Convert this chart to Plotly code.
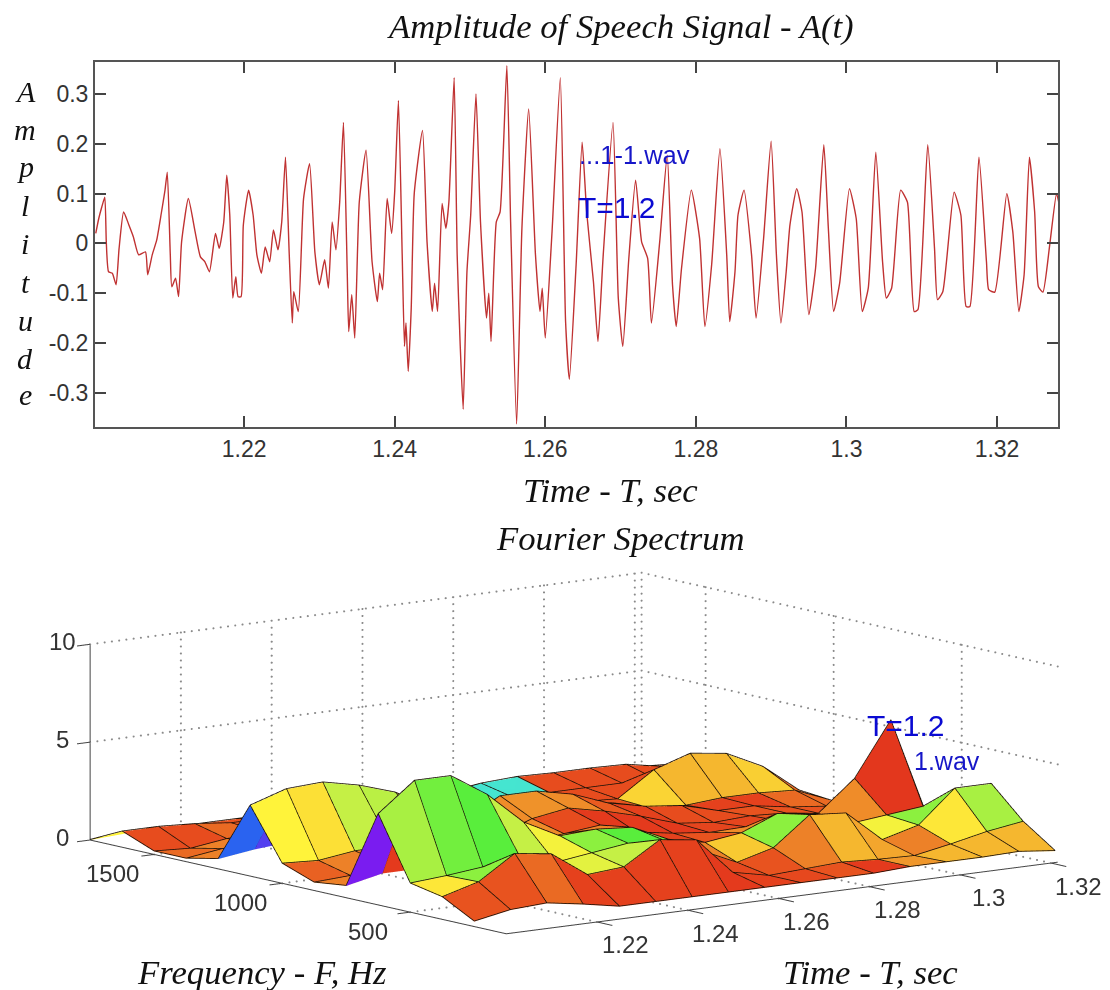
import plotly.graph_objects as go

W, H = 1110, 990

# ---------- top chart data ----------
time_s = [
1.2003,1.2007,1.2011,1.2015,1.2017,1.2020,1.2025,1.2030,1.2034,1.2040,1.2047,1.2053,1.2060,1.2069,1.2072,1.2078,1.2084,1.2090,1.2095,1.2098,
1.2102,1.2104,1.2109,1.2113,1.2117,1.2126,1.2135,1.2142,1.2148,1.2154,1.2162,1.2167,1.2173,1.2177,1.2181,1.2185,1.2189,1.2192,1.2196,1.2199,
1.2206,1.2212,1.2217,1.2223,1.2228,1.2234,1.2239,1.2245,1.2250,1.2255,1.2260,1.2264,1.2266,1.2272,1.2279,1.2287,1.2294,1.2300,1.2307,1.2312,
1.2317,1.2322,1.2327,1.2332,1.2337,1.2339,1.2343,1.2347,1.2353,1.2362,1.2370,1.2377,1.2380,1.2384,1.2390,1.2396,1.2400,1.2405,1.2410,1.2413,
1.2415,1.2418,1.2422,1.2426,
1.2437,1.2443,1.2450,1.2453,1.2457,1.2463,1.2468,1.2472,1.2479,1.2483,1.2487,1.2491,1.2496,1.2501,1.2508,1.2514,1.2522,1.2525,1.2528,1.2535,
1.2540,1.2549,1.2554,1.2562,1.2569,1.2578,1.2587,1.2593,1.2596,1.2600,1.2609,1.2620,1.2627,1.2632,1.2641,1.2649,1.2655,1.2664,1.2670,1.2677,
1.2690,1.2697,1.2703,1.2711,1.2720,1.2728,1.2736,1.2741,1.2752,1.2762,1.2769,1.2774,1.2781,1.2794,1.2805,1.2812,1.2821,1.2832,1.2841,1.2845,1.2852,
1.2856,1.2864,1.2874,1.2880,1.2890,1.2900,1.2907,1.2913,1.2920,1.2925,1.2934,1.2941,1.2950,1.2959,1.2970,1.2976,1.2983,1.2991,1.3004,1.3013,
1.3021,1.3029,1.3039,1.3048,1.3053,1.3060,1.3072,1.3081,1.3090,1.3095,1.3108,1.3117,1.3121,1.3128,1.3143,1.3152,1.3159,1.3164,1.3176,1.3186,
1.3189,1.3197,1.3213,1.3221,1.3229,1.3236,1.3243,1.3250,1.3255,1.3261,1.3270,1.3279,1.3282]
amplitude = [
.020,.050,.073,.093,.003,-.057,-.060,-.083,-.010,.063,.037,.013,-.023,-.017,-.063,-.023,.007,.060,.107,.143,
-.023,-.087,-.070,-.107,.003,.090,.023,-.027,-.037,-.057,.020,-.010,.043,.137,.057,-.110,-.067,-.107,-.107,.037,
.107,.057,-.023,-.060,-.007,-.037,.027,-.013,.043,.173,-.023,-.160,-.097,-.137,.090,.160,-.017,-.083,-.033,-.090,
.043,-.013,.083,.243,-.057,-.177,-.103,-.190,.083,.187,-.037,-.117,-.060,-.093,.090,.020,.103,.287,-.023,-.207,
-.160,-.257,-.130,.100,
.227,.003,-.137,-.080,-.137,.080,.030,.083,.333,-.023,-.203,-.333,-.057,.057,.300,.043,-.150,-.100,-.197,.043,
.063,.357,.043,-.363,.030,.270,-.023,-.137,-.090,-.190,.023,.333,-.157,-.273,-.043,.203,.063,-.077,-.197,-.023,
.243,-.110,-.207,-.030,.127,.003,-.030,-.160,.003,.177,-.083,-.167,-.050,.107,.010,-.167,-.043,.190,-.023,-.157,-.057,
.057,.107,-.023,-.150,.010,.205,-.023,-.160,-.057,.037,.110,.063,-.143,-.050,.198,.030,-.137,-.080,.110,.050,
-.137,-.090,.183,-.037,-.110,-.090,.107,.083,-.137,-.133,.198,-.010,-.113,-.097,.103,.057,-.127,-.127,.173,-.037,
-.093,-.098,.100,.023,-.137,-.063,.173,.063,-.087,-.098,-.003,.100,.083]

x_ticks = [1.22, 1.24, 1.26, 1.28, 1.30, 1.32]
x_tick_labels = ["1.22", "1.24", "1.26", "1.28", "1.3", "1.32"]
y_ticks = [-0.3, -0.2, -0.1, 0, 0.1, 0.2, 0.3]
y_tick_labels = ["-0.3", "-0.2", "-0.1", "0", "0.1", "0.2", "0.3"]

# ---------- bottom chart data ----------
spec_times = [1.2 + 0.008 * k for k in range(17)]
spec_freqs = [250 + 125 * k for k in range(13)]
# rows: frequency index 0..12, columns: time index 0..16
spec_amp = [
[.25,.6,.7,.4,.05,.05,.05,.05,.05,.05,.05,.05,.15,.15,.15,.2,0],
[1.13,1.65,2.86,2.6,1.3,1.45,2.6,2.35,.45,.05,.15,.25,.15,.1,.45,.85,1.13],
[1.46,1.6,1.8,2.15,1.55,1.8,2.05,1.95,1.2,.35,.85,2.3,2.15,.55,1.05,2.7,2.7],
[4.64,6.1,6.1,4.9,3.25,2.3,2.4,2.25,1.4,1.0,1.25,2.0,1.7,1.0,1.2,1.4,.3],
[.6,1.0,1.0,1.2,1.3,1.6,1.8,2.0,1.4,1.1,.9,.95,1.0,1.15,2.7,5.45,.3],
[.4,.5,.8,.9,1.2,1.5,2.2,2.5,2.1,1.6,1.0,.8,.9,.8,.5,.3,.1],
[1.0,.9,1.15,1.2,1.5,2.0,3.0,3.0,2.6,1.9,1.5,1.3,.8,.8,.5,.3,.1],
[3.6,4.2,4.3,3.9,3.3,2.2,1.5,1.2,1.1,1.2,1.3,.8,.7,.85,.85,.75,0],
[.5,.75,.9,1.0,1.0,1.0,1.0,1.0,1.0,1.0,1.0,.9,2.15,2.75,2.5,1.6,.15],
[.15,.4,.5,.6,.6,.7,.8,.9,1.0,1.1,1.1,1.1,1.1,1.0,.8,.5,.1],
[.15,.05,.3,.4,.4,.5,.6,.8,1.2,1.45,1.55,1.5,1.5,1.45,1.1,.5,0],
[.8,.8,.7,.5,.5,.5,.5,.5,.5,.5,.5,.5,.5,.5,.4,.3,0],
[0,.1,.1,.1,.1,.1,.1,.1,.1,.1,.1,.1,.1,.1,.1,.1,0],
]
# colour level of each facet (0 red ... 10 purple); rows 0..11, columns 0..15
spec_hue = [
[1,1,1.5,.5,.5,.5,.5,.3,.5,.7,1,.3,2.4,3,3,3],
[3.8,6,1,1,4.5,5,2,2,.7,1,2,3,2.7,2,3.8,5.5],
[5.5,6.5,7,5,4.2,6,7,6.5,2,3.3,6,4.2,2,4.2,6,2],
[10,.3,2,2,2,3,2,2,.5,1,2.2,2.5,1,2.2,.2,.2],
[2,1,1,1,2.2,2.2,.8,.3,.3,.3,.6,.6,1,1,1,1],
[1.3,2,1.8,2,2,2.2,2.3,2.2,1.2,.5,.8,.8,1,1,1,1],
[4,3.7,5,5.2,5,1,1,1,1,1,1,1,.5,.5,1.5,1.5],
[9,9.5,1,1,1,1,1,1,1,1,1,3.5,3,3,3.4,1.5],
[2,9.5,1,1,1,1,1,1,1,1,.8,.8,.8,.8,.8,.8],
[1.5,2,1,1,1,1,1,1,8,8,.8,.8,.8,.8,.8,.8],
[.8,.8,1.5,1,1,.8,.8,.8,.8,.8,.8,.8,.8,.8,.8,.8],
[4,1,1,1,1,.8,.8,.8,.8,.8,.8,.8,.8,.8,.8,.8],
]
hue_colors = ["#e2301c","#e8541f","#ed8228","#f5b82f","#fff33a","#c4f045",
              "#8cf03f","#58ee3c","#45e6d0","#2a62f0","#7a1cf0"]
t_ticks = [1.22, 1.24, 1.26, 1.28, 1.30, 1.32]
t_tick_labels = ["1.22", "1.24", "1.26", "1.28", "1.3", "1.32"]
f_ticks = [500, 1000, 1500]
z_ticks = [0, 5, 10]

T_LOW, T_WALL = 1.2, 1.3215
F_LOW, F_WALL = 125, 1750
Z_TOP = 10
EYE_R = 6.0
ZOOM = 4.1

SERIF = "Liberation Serif"
SANS = "Liberation Sans"
INK = "#333333"
BLUE = "#1616c8"

fig = go.Figure()

# ---------- top line ----------
fig.add_trace(go.Scatter(x=time_s, y=amplitude, mode="lines",
                         line=dict(color="#c03232", width=1.4, shape="spline", smoothing=0.5),
                         hoverinfo="skip", xaxis="x", yaxis="y", showlegend=False))

# ---------- surface ----------
nj, ni = len(spec_freqs), len(spec_times)
vx, vy, vz, fi, fj, fk, fint = [], [], [], [], [], [], []
for j in range(nj):
    for i in range(ni):
        vx.append(spec_times[i]); vy.append(spec_freqs[j]); vz.append(spec_amp[j][i])
for j in range(nj - 1):
    for i in range(ni - 1):
        a = j * ni + i; b = a + 1; c = a + ni; d = c + 1
        fi += [a, a]; fj += [b, d]; fk += [d, c]
        fint += [spec_hue[j][i]] * 2
n = len(hue_colors) - 1
fig.add_trace(go.Mesh3d(
    x=vx, y=vy, z=vz, i=fi, j=fj, k=fk, intensity=fint, intensitymode="cell",
    cmin=0, cmax=n, showscale=False, flatshading=True,
    colorscale=[[k / n, c] for k, c in enumerate(hue_colors)],
    lighting=dict(ambient=1, diffuse=0, specular=0, roughness=1, fresnel=0),
    hoverinfo="skip", scene="scene"))

LIFT = 0.03
ex, ey, ez = [], [], []
for j in range(nj):
    ex += spec_times + [None]; ey += [spec_freqs[j]] * ni + [None]
    ez += [v + LIFT for v in spec_amp[j]] + [None]
for i in range(ni):
    ex += [spec_times[i]] * nj + [None]; ey += spec_freqs + [None]
    ez += [spec_amp[j][i] + LIFT for j in range(nj)] + [None]
fig.add_trace(go.Scatter3d(x=ex, y=ey, z=ez, mode="lines", hoverinfo="skip",
                           line=dict(color="#1c1208", width=1.6), scene="scene", showlegend=False))

# dotted walls and floor, drawn as small marks along each grid line
gx, gy, gz = [], [], []
def seg(x0, y0, z0, x1, y1, z1, count):
    for k in range(count + 1):
        s = k / count
        gx.append(x0 + (x1 - x0) * s); gy.append(y0 + (y1 - y0) * s); gz.append(z0 + (z1 - z0) * s)
for t in t_ticks:
    seg(t, F_WALL, 0, t, F_WALL, Z_TOP, 28)
    seg(t, F_LOW, 0, t, F_WALL, 0, 60)
for f in f_ticks:
    seg(T_WALL, f, 0, T_WALL, f, Z_TOP, 28)
    seg(T_LOW, f, 0, T_WALL, f, 0, 76)
for z in z_ticks[1:]:
    seg(T_LOW, F_WALL, z, T_WALL, F_WALL, z, 76)
    seg(T_WALL, F_LOW, z, T_WALL, F_WALL, z, 60)
seg(T_WALL, F_WALL, 0, T_WALL, F_WALL, Z_TOP, 28)
fig.add_trace(go.Scatter3d(x=gx, y=gy, z=gz, mode="markers", hoverinfo="skip",
                           marker=dict(color="#8a8a8a", size=1.2, line=dict(width=0)),
                           scene="scene", showlegend=False))

# solid axes and ticks
ax, ay, az = [], [], []
def aseg(x0, y0, z0, x1, y1, z1):
    ax.extend([x0, x1, None]); ay.extend([y0, y1, None]); az.extend([z0, z1, None])
aseg(T_LOW, F_LOW, 0, T_LOW, F_WALL, 0)
aseg(T_LOW, F_LOW, 0, T_WALL, F_LOW, 0)
aseg(T_LOW, F_WALL, 0, T_LOW, F_WALL, Z_TOP)
for t in t_ticks:
    aseg(t, F_LOW, 0, t, F_LOW - 60, 0)
for f in f_ticks:
    aseg(T_LOW, f, 0, T_LOW - 0.0028, f, 0)
for z in z_ticks:
    aseg(T_LOW, F_WALL, z, T_LOW - 0.004, F_WALL, z)
fig.add_trace(go.Scatter3d(x=ax, y=ay, z=az, mode="lines", hoverinfo="skip",
                           line=dict(color="#444444", width=2), scene="scene", showlegend=False))

# scene tick labels
scene_notes = []
for t, lab in zip(t_ticks, t_tick_labels):
    scene_notes.append(dict(x=t, y=F_LOW, z=0, text=lab, showarrow=False, xshift=28, yshift=-23,
                            font=dict(family=SANS, size=24, color=INK)))
for f in f_ticks:
    scene_notes.append(dict(x=T_LOW, y=f, z=0, text=str(f), showarrow=False, xshift=-42, yshift=-19,
                            font=dict(family=SANS, size=24, color=INK)))
for z in z_ticks:
    scene_notes.append(dict(x=T_LOW, y=F_WALL, z=z, text=str(z), showarrow=False, xshift=-28, yshift=3,
                            font=dict(family=SANS, size=24, color=INK)))

# ---------- layout ----------
def px(x): return x / W
def py(y): return 1 - y / H
def note(x, y, text, size, family=SERIF, color="#111111", anchor="center", italic=True):
    txt = f"<i>{text}</i>" if italic else text
    return dict(x=px(x), y=py(y), xref="paper", yref="paper", text=txt, showarrow=False,
                xanchor=anchor, yanchor="middle", font=dict(family=family, size=size, color=color))

notes = [
    note(620, 27, "Amplitude of Speech Signal - A(t)", 34.7),
    note(610, 490, "Time - T, sec", 34.7),
    note(620, 538, "Fourier Spectrum", 34.7),
    note(262, 972, "Frequency - F, Hz", 34.7),
    note(870, 972, "Time - T, sec", 34.7),
    note(577, 155, "...1-1.wav", 25.5, SANS, BLUE, "left", False),
    note(576, 207, "T=1.2", 30, SANS, "#0a0ad2", "left", False),
    note(865, 725, "T=1.2", 30, SANS, "#0a0ad2", "left", False),
    note(912, 761, "1.wav", 25, SANS, BLUE, "left", False),
]
for ch, yy in zip("Amplitude", [91, 129, 167, 205, 243, 282, 320, 358, 394]):
    notes.append(note(25, yy, ch, 30))

eye = dict(x=-0.5956 * EYE_R, y=-0.7846 * EYE_R, z=0.171 * EYE_R)
hidden = dict(visible=False, showspikes=False)
fig.update_layout(
    width=W, height=H, margin=dict(l=0, r=0, t=0, b=0), autosize=False,
    paper_bgcolor="white", plot_bgcolor="white", showlegend=False, hovermode=False,
    annotations=notes,
    xaxis=dict(domain=[px(95), px(1058)], range=[1.2002, 1.3281], tickmode="array",
               tickvals=x_ticks, ticktext=x_tick_labels, ticks="inside", ticklen=11, tickcolor="#444444",
               tickwidth=1.5, mirror="allticks", showline=True, linecolor="#555555", linewidth=2,
               showgrid=False, zeroline=False, anchor="y",
               tickfont=dict(family=SANS, size=23, color=INK)),
    yaxis=dict(domain=[py(427), py(62)], range=[-0.3688, 0.3643], tickmode="array",
               tickvals=y_ticks, ticktext=y_tick_labels, ticks="inside", ticklen=11, tickcolor="#444444",
               tickwidth=1.5, mirror="allticks", showline=True, linecolor="#555555", linewidth=2,
               showgrid=False, zeroline=False, anchor="x",
               tickfont=dict(family=SANS, size=23, color=INK)),
    scene=dict(
        domain=dict(x=[px(77), px(1103)], y=[py(955), py(545)]),
        xaxis=dict(range=[1.19, 1.34], **hidden),
        yaxis=dict(range=[50, 1850], **hidden),
        zaxis=dict(range=[-0.5, 10.5], **hidden),
        aspectmode="manual", aspectratio=dict(x=1.017 * ZOOM, y=0.907 * ZOOM, z=0.26 * ZOOM),
        camera=dict(eye=eye, up=dict(x=0, y=0, z=1), center=dict(x=0, y=0, z=0),
                    projection=dict(type="orthographic")),
        annotations=scene_notes, bgcolor="rgba(0,0,0,0)",
    ),
)
fig.write_html("out.html", config=dict(displayModeBar=False),
               post_script="document.body.style.margin='0';")
